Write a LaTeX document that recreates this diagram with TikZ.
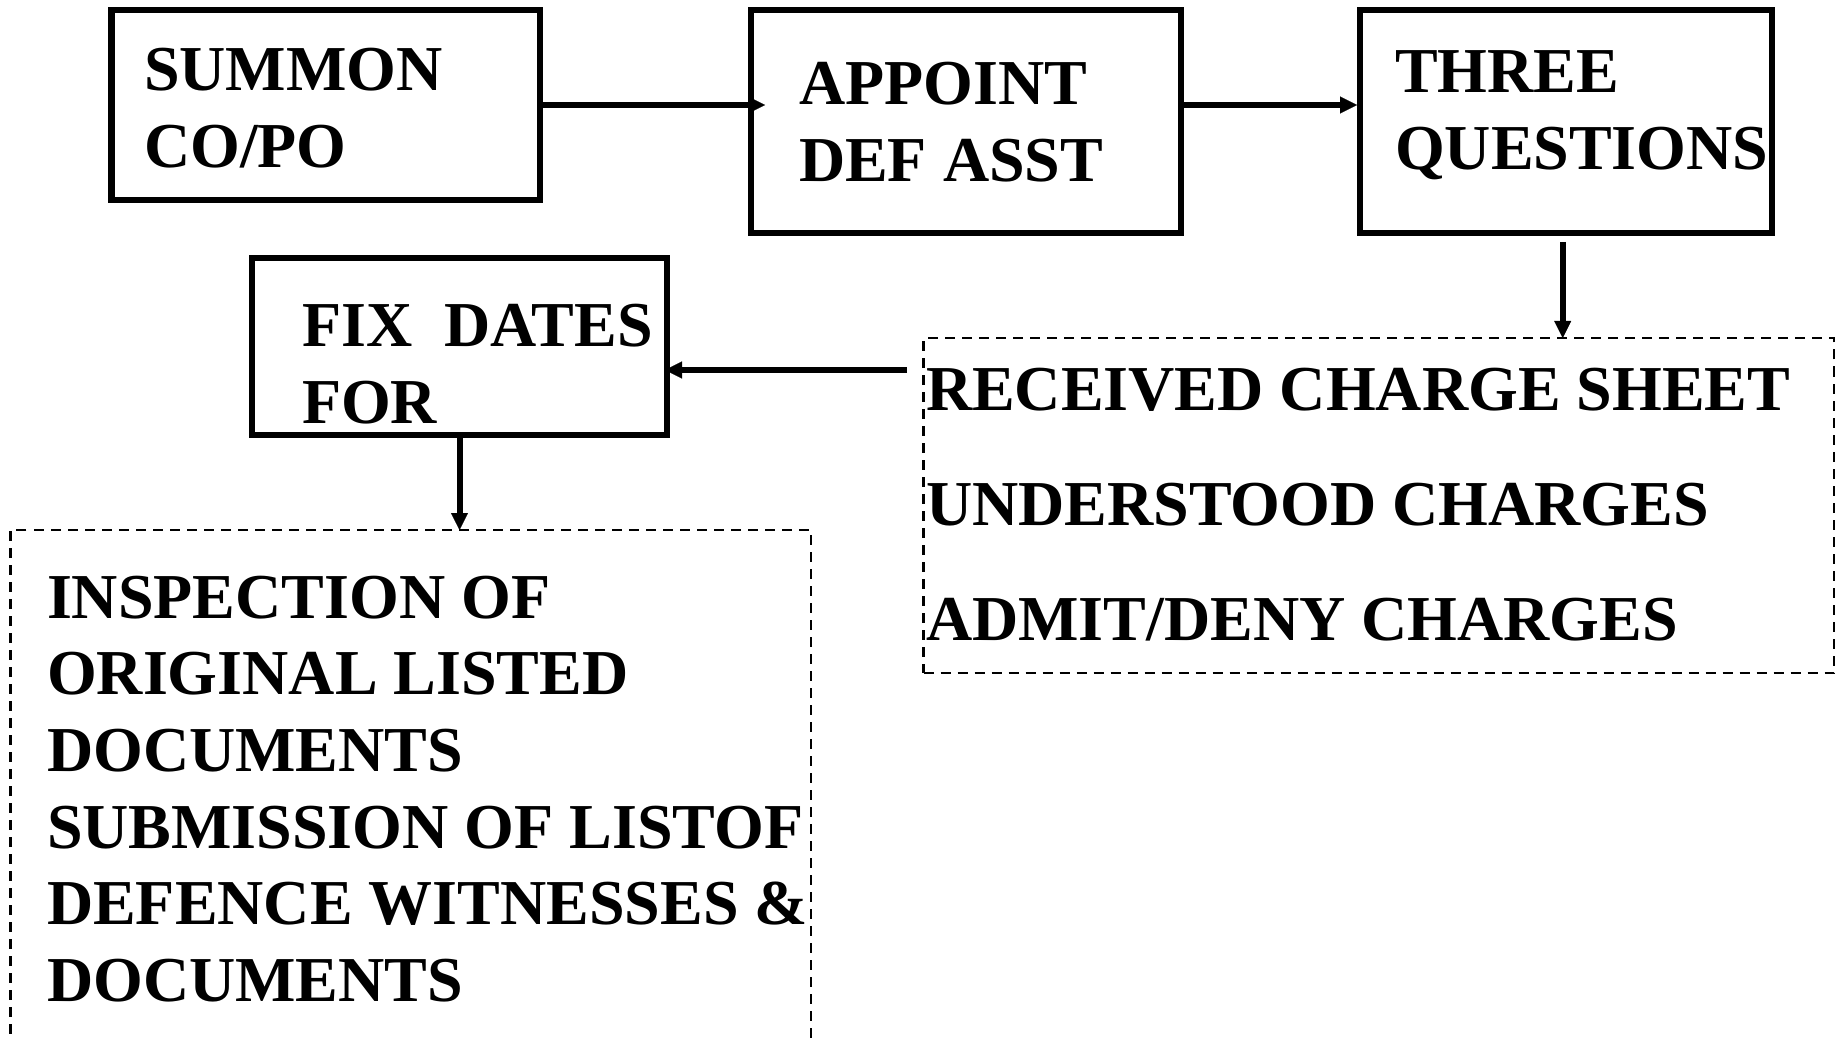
\documentclass[tikz,border=0pt]{standalone}
\usepackage{fontspec}
\setmainfont{Liberation Serif}
\usetikzlibrary{arrows.meta}
\tikzset{
  boxnode/.style={draw, line width=6.5pt, rectangle, inner sep=0pt, outer sep=0pt, anchor=north west},
  dashbox/.style={draw, line width=2.3pt, dash pattern=on 10pt off 7pt, rectangle, inner sep=0pt, outer sep=0pt, anchor=north west},
  txt/.style={anchor=base west, inner sep=0pt, outer sep=0pt, font=\fontsize{64}{76.7}\selectfont\bfseries},
  listtxt/.style={anchor=base west, inner sep=0pt, outer sep=0pt, font=\fontsize{64}{115}\selectfont\bfseries},
  arr/.style={line width=6pt, -{Triangle[length=17pt,width=17pt,line width=0.1pt]}}
}
\begin{document}
\begin{tikzpicture}[x=1pt,y=-1pt]
\useasboundingbox (0,0) rectangle (1841,1040);
\clip (0,0) rectangle (1841,1040);
% boxes
\node[boxnode, minimum width=428.5pt, minimum height=190pt] (summon) at (111.5,10) {};
\node[boxnode, minimum width=430pt, minimum height=223pt] (appoint) at (751,10) {};
\node[boxnode, minimum width=412pt, minimum height=223pt] (three) at (1360,10) {};
\node[boxnode, minimum width=415pt, minimum height=177pt] (fix) at (252,258) {};
\node[dashbox, minimum width=910.5pt, minimum height=335pt] (recv) at (923.5,338) {};
\node[dashbox, minimum width=800.5pt, minimum height=540pt] (insp) at (10.5,530) {};
% texts
\node[txt] (summontext) at (144,90.7) {\begin{tabular}[t]{@{}l@{}}SUMMON\\CO/PO\end{tabular}};
\node[txt] (appointtext) at (799,105) {\begin{tabular}[t]{@{}l@{}}APPOINT\\DEF ASST\end{tabular}};
\node[txt] (threetext) at (1395,93) {\begin{tabular}[t]{@{}l@{}}THREE\\QUESTIONS\end{tabular}};
\node[txt] (fixtext) at (302,347) {\begin{tabular}[t]{@{}l@{}}FIX\ \ DATES\\FOR\end{tabular}};
\node[listtxt] (recvtext) at (926,410) {\begin{tabular}[t]{@{}l@{}}RECEIVED CHARGE SHEET\\UNDERSTOOD CHARGES\\ADMIT/DENY CHARGES\end{tabular}};
\node[txt] (insptext) at (47,618) {\begin{tabular}[t]{@{}l@{}}INSPECTION OF\\ORIGINAL LISTED\\DOCUMENTS\\SUBMISSION OF LISTOF\\DEFENCE WITNESSES \&\\DOCUMENTS\end{tabular}};
% connectors
\draw[arr, shorten >=-14pt] (summon.east) -- (summon.east -| appoint.west);
\draw[arr, shorten >=3pt] (appoint.east |- summon.east) -- (three.west |- summon.east);
\draw[arr, shorten <=9pt] ([xshift=-3.3pt]three.south) -- ([xshift=-3.3pt]three.south |- recv.north);
\coordinate (a4s) at (907,370);
\draw[arr, shorten >=-2pt] (a4s) -- (a4s -| fix.east);
\draw[arr] (fix.south) -- (fix.south |- insp.north);
\end{tikzpicture}
\end{document}
